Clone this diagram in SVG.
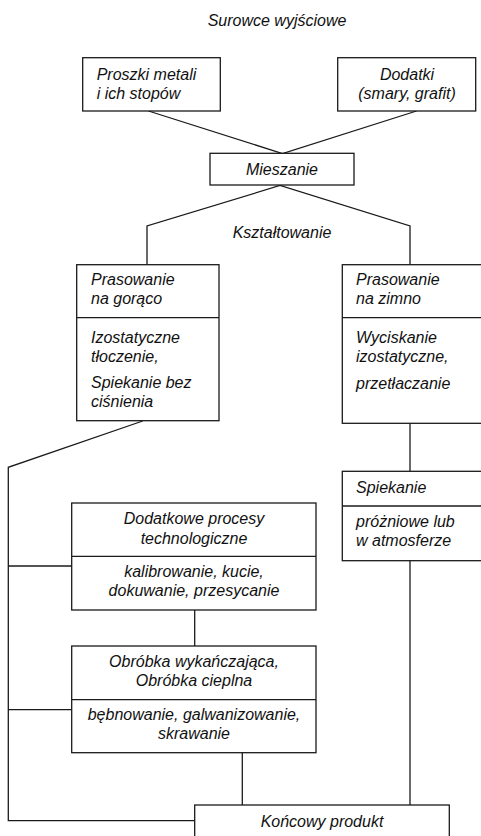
<svg xmlns="http://www.w3.org/2000/svg" width="481" height="836" viewBox="0 0 481 836">
<style>
rect{fill:#fff;stroke:#1a1a1a;stroke-width:1.3}
.d{stroke:#1a1a1a;stroke-width:1.3}
#connectors polyline,#connectors line{fill:none;stroke:#1a1a1a;stroke-width:1.3}
text{font-family:"Liberation Sans",Arial,sans-serif;font-style:italic;font-size:16px;fill:#111}
.c{text-anchor:middle}
</style>
<rect x="0" y="0" width="481" height="836" style="stroke:none"/>
<text id="title" class="c" x="277" y="26">Surowce wyjściowe</text>
<text id="label-ksztaltowanie" class="c" x="282" y="238">Kształtowanie</text>
<g id="connectors">
<polyline points="148.5,111 282.5,153.5 416.5,111"/>
<polyline points="147,264.7 147,226 280,185.5 410,226 410,264.7"/>
<line x1="410" y1="423" x2="410" y2="471.3"/>
<polyline points="142.7,421 8.3,467.3 8.3,820.7 194.7,820.7"/>
<line x1="8.3" y1="566" x2="71.7" y2="566"/>
<line x1="8.3" y1="709.7" x2="71.7" y2="709.7"/>
<line x1="194.7" y1="610" x2="194.7" y2="646"/>
<line x1="242.3" y1="752.7" x2="242.3" y2="805"/>
<line x1="410" y1="560.7" x2="410" y2="805"/>
</g>
<g id="proszki">
<rect x="82.7" y="57.7" width="137.6" height="53.3"/>
<text x="96.7" y="80">Proszki metali</text>
<text x="96.7" y="99">i ich stopów</text>
</g>
<g id="dodatki">
<rect x="337.7" y="57.7" width="138" height="53.3"/>
<text class="c" x="407" y="80">Dodatki</text>
<text class="c" x="407" y="99">(smary, grafit)</text>
</g>
<g id="mieszanie">
<rect x="210" y="153.3" width="144" height="31.7"/>
<text class="c" x="282" y="175">Mieszanie</text>
</g>
<g id="goraco">
<rect x="76.7" y="264.7" width="142.3" height="156"/>
<line class="d" x1="76.7" y1="317.7" x2="219" y2="317.7"/>
<text x="91" y="285">Prasowanie</text>
<text x="91" y="304.3">na gorąco</text>
<text x="91" y="342.7">Izostatyczne</text>
<text x="91" y="361.7">tłoczenie,</text>
<text x="91" y="387.7">Spiekanie bez</text>
<text x="91" y="406.7">ciśnienia</text>
</g>
<g id="zimno">
<rect x="342.3" y="264.7" width="150" height="158.6"/>
<line class="d" x1="342.3" y1="317.7" x2="492" y2="317.7"/>
<text x="356" y="285">Prasowanie</text>
<text x="356" y="304.3">na zimno</text>
<text x="356" y="342.7">Wyciskanie</text>
<text x="356" y="361.7">izostatyczne,</text>
<text x="356" y="389">przetłaczanie</text>
</g>
<g id="spiekanie">
<rect x="342.3" y="471.3" width="150" height="89.4"/>
<line class="d" x1="342.3" y1="506" x2="492" y2="506"/>
<text x="356" y="493.3">Spiekanie</text>
<text x="356" y="526.7">próżniowe lub</text>
<text x="356" y="545.7">w atmosferze</text>
</g>
<g id="dodatkowe">
<rect x="71.7" y="503" width="244.3" height="107"/>
<line class="d" x1="71.7" y1="556.3" x2="316" y2="556.3"/>
<text class="c" x="194" y="524.3">Dodatkowe procesy</text>
<text class="c" x="194" y="544">technologiczne</text>
<text class="c" x="194" y="576.7">kalibrowanie, kucie,</text>
<text class="c" x="194" y="596">dokuwanie, przesycanie</text>
</g>
<g id="obrobka">
<rect x="71.7" y="646" width="244.3" height="106.7"/>
<line class="d" x1="71.7" y1="699.7" x2="316" y2="699.7"/>
<text class="c" x="194" y="666.7">Obróbka wykańczająca,</text>
<text class="c" x="194" y="686">Obróbka cieplna</text>
<text class="c" x="194" y="720">bębnowanie, galwanizowanie,</text>
<text class="c" x="194" y="739.3">skrawanie</text>
</g>
<g id="koncowy">
<rect x="194.7" y="805" width="254.6" height="50"/>
<text class="c" x="322" y="826.7">Końcowy produkt</text>
</g>
</svg>
